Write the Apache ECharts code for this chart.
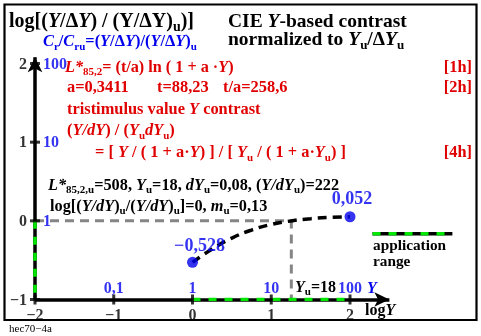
<!DOCTYPE html>
<html>
<head>
<meta charset="utf-8">
<script src="https://cdn.jsdelivr.net/npm/echarts@6/dist/echarts.min.js"></script>
<style>html,body{margin:0;padding:0;background:#fff;}#c{width:481px;height:336px;}</style>
</head>
<body>
<div id="c"></div>
<script>
// ---- data ----
const xTicks = [-2, -1, 0, 1, 2];
const xTickLabels = ['\u22122', '\u22121', '0', '1', '2'];
const xLinTicks = [-1, 0, 1, 2];
const xLinLabels = ['0,1', '1', '10', '100'];
const yTicks = [-1, 0, 1, 2];
const yTickLabels = ['\u22121', '0', '1', '2'];
const yLinTicks = [0, 1, 2];
const yLinLabels = ['1', '10', '100'];
const curveLogY = [0, 0.25, 0.5, 0.75, 1, 1.25, 1.5, 1.75, 2];
const curveValue = [-0.528, -0.357, -0.219, -0.117, -0.046, -0.001, 0.027, 0.044, 0.052];
const endLogY = [0, 2];
const endValue = [-0.528, 0.052];
const endLabels = ['\u22120,528', '0,052'];
const logYu = 1.255;
const appRangeLogY = [0, 2];
const appRangeValue = [-1, 0];

// ---- styling ----
const F = "'Liberation Serif', 'DejaVu Serif', 'Times New Roman', serif";
const RED = '#e00000', BLUE = '#0000ee', GREEN = '#00e600', GREY = '#858585';

function rich(color, size) {
  const L = Math.round(size * 1.25);
  const base = {fontFamily: F, fontWeight: 'bold', fontSize: size, color: color, lineHeight: L};
  const s = Object.assign({}, base, {fontSize: Math.round(size * 0.68), lineHeight: Math.round(size * 0.45), verticalAlign: 'bottom'});
  return {
    n: base,
    i: Object.assign({}, base, {fontStyle: 'italic'}),
    s: s,
    si: Object.assign({}, s, {fontStyle: 'italic'})
  };
}
function T(text, pos, cy, color, size) {
  const L = Math.round(size * 1.25);
  const o = {text: text, top: cy - L / 2, padding: 0, textStyle: {rich: rich(color, size), fontSize: size, lineHeight: L, fontFamily: F}};
  if (pos.right !== undefined) o.right = pos.right; else o.left = pos.left;
  return o;
}

const titles = [
  T('{n|log[(}{i|Y}{n|/\u0394}{i|Y}{n|) / (Y/\u0394Y)}{s|u}{n|)]}', {left: 9}, 21.5, '#000', 20),
  T('{n|CIE }{i|Y}{n|-based contrast}', {left: 228}, 21.5, '#000', 19.5),
  T('{n|normalized to }{i|Y}{s|u}{n|/\u0394}{i|Y}{s|u}', {left: 228}, 40, '#000', 19.5),
  T('{i|C}{s|r}{n|/}{i|C}{s|ru}{n|=(}{i|Y}{n|/\u0394}{i|Y}{n|)/(}{i|Y}{n|/\u0394}{i|Y}{n|)}{s|u}', {left: 43}, 42, BLUE, 16.4),
  T('{i|L*}{s|85,2}{n|= (t/a) ln ( 1 + a \u00b7}{i|Y}{n|)}', {left: 65}, 68, RED, 16.2),
  T('{n|[1h]}', {right: 9}, 68, RED, 16.4),
  T('{n|a=0,3411}', {left: 67}, 87.5, RED, 16.4),
  T('{n|t=88,23}', {left: 157}, 87.5, RED, 16.4),
  T('{n|t/a=258,6}', {left: 223}, 87.5, RED, 16.4),
  T('{n|[2h]}', {right: 9}, 87.5, RED, 16.4),
  T('{n|tristimulus value }{i|Y}{n| contrast}', {left: 67}, 110, RED, 16.4),
  T('{n|(}{i|Y/dY}{n|) / (}{i|Y}{s|u}{i|dY}{s|u}{n|)}', {left: 67}, 131, RED, 16.4),
  T('{n|= [ }{i|Y}{n| / ( 1 + a\u00b7}{i|Y}{n|) ] / [ }{i|Y}{s|u}{n| / ( 1 + a\u00b7}{i|Y}{s|u}{n|) ]}', {left: 95}, 153, RED, 16.4),
  T('{n|[4h]}', {right: 9}, 153, RED, 16.4),
  T('{i|L*}{s|85,2,u}{n|=508, }{i|Y}{s|u}{n|=18, }{i|dY}{s|u}{n|=0,08, (}{i|Y/dY}{s|u}{n|)=222}', {left: 48}, 186, '#000', 16.3),
  T('{n|log[(}{i|Y/dY}{n|)}{s|u}{n|/(}{i|Y/dY}{n|)}{s|u}{n|]=0, }{i|m}{s|u}{n|=0,13}', {left: 50}, 207, '#000', 16.3),
  T('{n|application}', {left: 373}, 246, '#000', 15.3),
  T('{n|range}', {left: 373}, 262, '#000', 15.3),
  T('{i|Y}{s|u}{n|=18}', {left: 295}, 288, '#000', 16),
  T('{i|Y}', {left: 367}, 289, BLUE, 16),
  T('{n|log}{i|Y}', {left: 365}, 311, '#000', 16),
  {text: 'hec70\u22124a', left: 9, top: 324, padding: 0, textStyle: {fontFamily: F, fontWeight: 'normal', fontSize: 11, color: '#000'}}
];

function labelSeries(points, labels, color, size, align, offset) {
  return {
    type: 'scatter', silent: true, symbol: 'circle', symbolSize: 1, z: 8,
    itemStyle: {color: 'rgba(0,0,0,0)'},
    data: points.map((p, i) => ({value: p, label: {formatter: labels[i]}})),
    label: {show: true, position: 'inside', align: align, verticalAlign: 'middle', offset: offset,
      fontFamily: F, fontWeight: 'bold', fontSize: size, color: color}
  };
}

const chart = echarts.init(document.getElementById('c'), null, {renderer: 'canvas'});
chart.setOption({
  animation: false,
  backgroundColor: '#fff',
  title: titles,
  grid: {left: 35, right: 20.75, top: 47, bottom: 36.5},
  xAxis: {type: 'value', min: -2, max: 3.4, show: false},
  yAxis: {type: 'value', min: -1, max: 2.21, show: false},
  graphic: [{type: 'rect', shape: {x: 4.5, y: 4.5, width: 472, height: 315.5}, style: {fill: 'none', stroke: '#000', lineWidth: 2.2}, z: 100}],
  series: [
    // axes with arrows
    {type: 'line', data: [], silent: true, z: 3,
      markLine: {silent: true, z: 3, symbol: ['none', 'arrow'], symbolSize: [11, 15], animation: false,
        label: {show: false}, lineStyle: {color: '#000', width: 3.5, type: 'solid'},
        emphasis: {disabled: true},
        data: [
          [{coord: [xTicks[0], yTicks[0]]}, {coord: [xTicks[0], 2.08]}],
          [{coord: [xTicks[0], yTicks[0]]}, {coord: [2.5, yTicks[0]]}]
        ]}},
    // grey reference lines at Yu
    {type: 'line', silent: true, symbol: 'none', z: 2,
      data: [[xTicks[0], 0], [logYu, 0], [logYu, yTicks[0]]],
      lineStyle: {color: GREY, width: 3, type: [9, 6]}},
    // application range on axes
    {type: 'line', silent: true, symbol: 'none', z: 7,
      data: [[appRangeLogY[0], yTicks[0]], [appRangeLogY[1], yTicks[0]]],
      lineStyle: {color: GREEN, width: 3.5, type: [8, 8]}},
    {type: 'line', silent: true, symbol: 'none', z: 7,
      data: [[xTicks[0], appRangeValue[1]], [xTicks[0], appRangeValue[0]]],
      lineStyle: {color: GREEN, width: 3.5, type: [8, 8]}},
    // legend sample
    {type: 'line', silent: true, symbol: 'none', z: 6,
      data: [[2.286, -0.165], [3.30, -0.165]],
      lineStyle: {color: '#000', width: 3.5}},
    {type: 'line', silent: true, symbol: 'none', z: 7,
      data: [[2.286, -0.165], [3.30, -0.165]],
      lineStyle: {color: GREEN, width: 3.5, type: [8, 8]}},
    // curve
    {type: 'line', silent: true, symbol: 'none', smooth: true, z: 6,
      data: curveLogY.map((x, i) => [x, curveValue[i]]),
      lineStyle: {color: '#000', width: 3.5, type: [9, 6]}},
    // end points
    {type: 'scatter', silent: true, symbol: 'circle', symbolSize: 11, z: 8,
      itemStyle: {color: BLUE},
      data: endLogY.map((x, i) => ({value: [x, endValue[i]], label: {formatter: endLabels[i], offset: i === 0 ? [7, -16] : [2, -17]}})),
      label: {show: true, position: 'inside', fontFamily: F, fontWeight: 'bold', fontSize: 18, color: BLUE}},
    // tick marks
    {type: 'scatter', silent: true, symbol: 'rect', symbolSize: [10, 3], z: 8, itemStyle: {color: '#000'},
      data: yTicks.map(v => [xTicks[0], v])},
    {type: 'scatter', silent: true, symbol: 'rect', symbolSize: [3, 10], z: 8, itemStyle: {color: '#000'},
      data: xTicks.map(v => [v, yTicks[0]])},
    // tick labels
    labelSeries(yTicks.map(v => [xTicks[0], v]), yTickLabels, '#000', 16, 'right', [-8, 1]),
    labelSeries(yLinTicks.map(v => [xTicks[0], v]), yLinLabels, BLUE, 16, 'left', [8, 1]),
    labelSeries(xTicks.map(v => [v, yTicks[0]]), xTickLabels, '#000', 16, 'center', [0, 16]),
    labelSeries(xLinTicks.map(v => [v, yTicks[0]]), xLinLabels, BLUE, 16, 'center', [0, -11])
  ]
});
</script>
</body>
</html>
